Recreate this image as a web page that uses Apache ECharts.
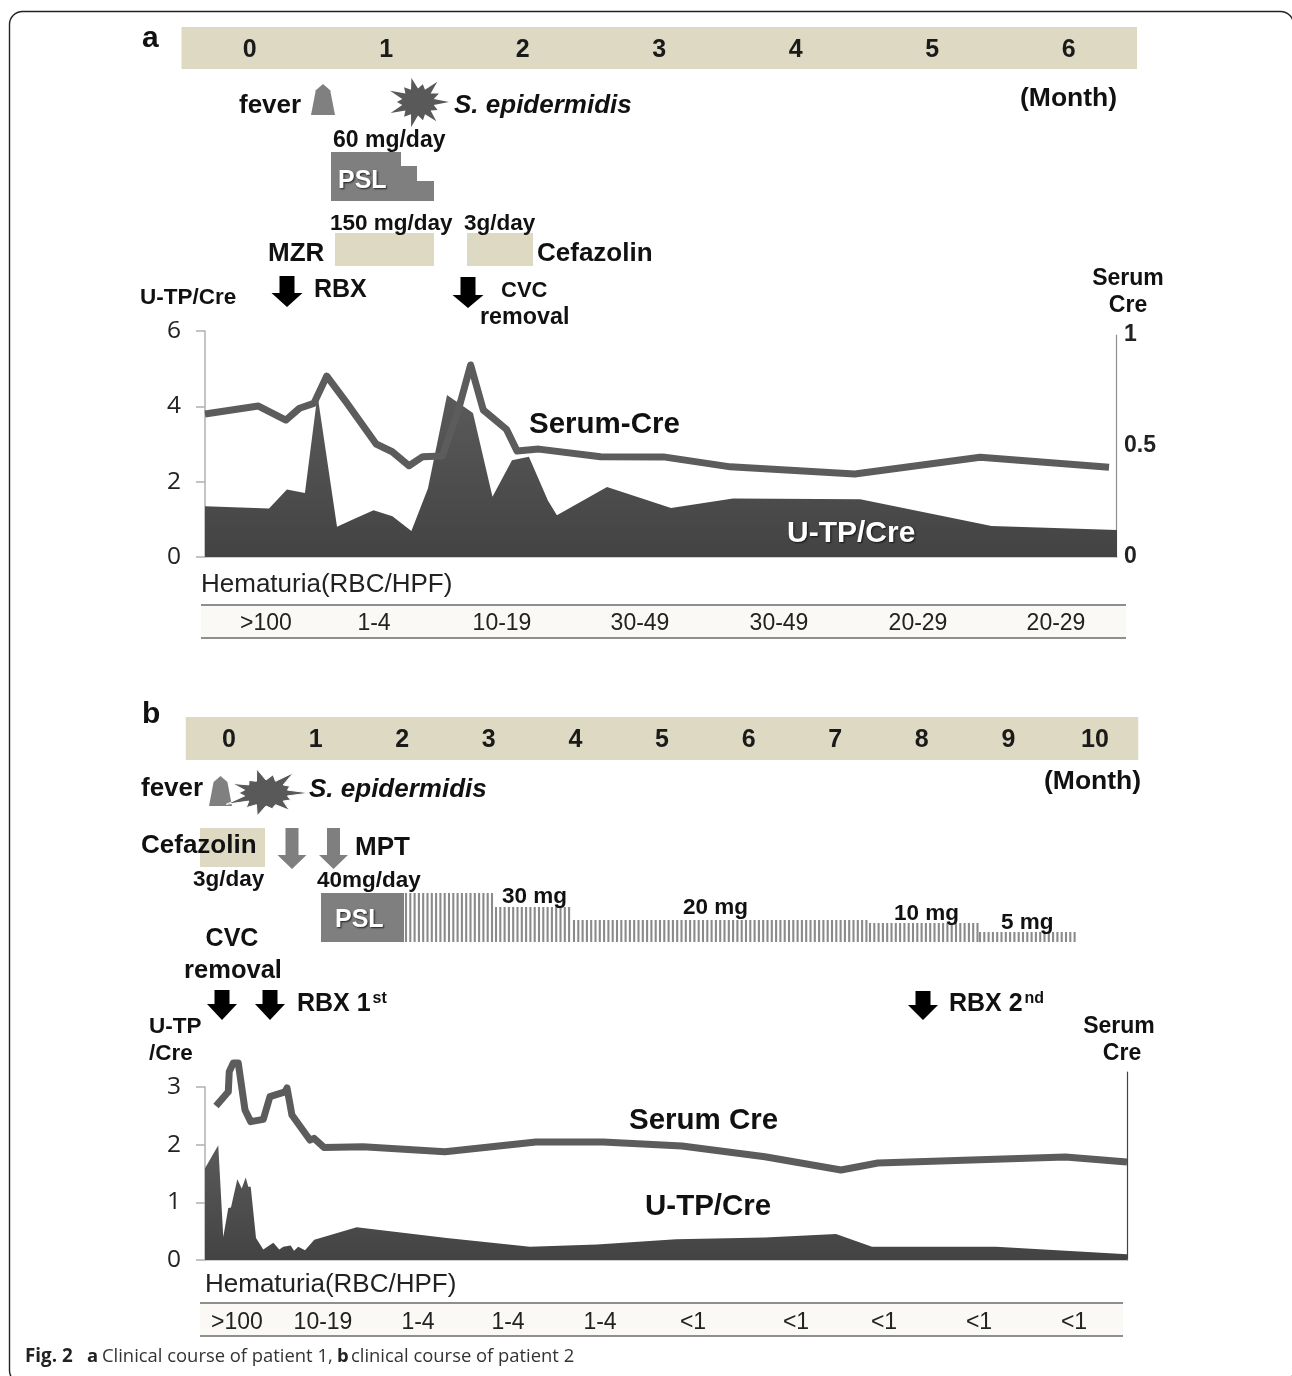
<!DOCTYPE html>
<html>
<head>
<meta charset="utf-8">
<style>html,body{margin:0;padding:0;background:#fff}#c{width:1292px;height:1376px}</style>
<script src="https://cdn.jsdelivr.net/npm/echarts@6/dist/echarts.min.js"></script>
</head>
<body>
<div id="c"></div>
<script>
// ---- data ----
const monthsA = ['0','1','2','3','4','5','6'];
const monthsB = ['0','1','2','3','4','5','6','7','8','9','10'];
const utpTicksA = 6, serumTicksA = 1, utpTicksB = 3;

const aUtpX = [-0.322,0.147,0.278,0.41,0.502,0.645,0.777,0.913,1.051,1.19,1.311,1.451,1.641,1.784,1.927,2.051,2.19,2.256,2.623,3.092,3.546,4.478,5.44,6.359];
const aUtpY = [1.35,1.29,1.79,1.70,4.3,0.80,1.02,1.24,1.08,0.69,1.82,4.3,3.82,1.60,2.57,2.66,1.50,1.11,1.86,1.30,1.55,1.53,0.82,0.72];
const aCreX = [-0.322,0.07,0.271,0.371,0.476,0.571,0.711,0.933,1.051,1.174,1.275,1.418,1.536,1.626,1.719,1.889,1.967,2.125,2.579,3.04,3.531,4.443,5.363,6.308];
const aCreY = [0.644,0.68,0.617,0.67,0.692,0.815,0.70,0.509,0.474,0.411,0.452,0.455,0.662,0.865,0.662,0.575,0.477,0.486,0.452,0.451,0.406,0.374,0.449,0.404];

const bUtpX = [-0.277,-0.124,-0.066,-0.008,0.023,0.096,0.147,0.193,0.223,0.251,0.312,0.396,0.512,0.581,0.627,0.712,0.751,0.8,0.878,0.985,1.475,2.514,3.476,4.25,5.162,6.189,7.009,7.425,8.857,10.37];
const bUtpY = [1.59,1.99,0.40,0.90,0.91,1.40,1.24,1.43,1.27,1.27,0.38,0.18,0.30,0.18,0.23,0.25,0.16,0.23,0.17,0.35,0.57,0.38,0.23,0.27,0.36,0.39,0.45,0.23,0.23,0.10];
const bCreX = [-0.15,-0.008,0.003,0.05,0.107,0.185,0.251,0.396,0.473,0.647,0.67,0.727,0.935,0.982,1.097,1.547,2.494,3.545,4.319,5.231,6.189,7.067,7.494,9.659,10.37];
const bCreY = [0.819,0.895,1.002,1.048,1.048,0.798,0.736,0.748,0.869,0.894,0.915,0.771,0.638,0.647,0.599,0.603,0.576,0.628,0.628,0.606,0.549,0.479,0.516,0.548,0.521];

const hematuriaA = ['>100','1-4','10-19','30-49','30-49','20-29','20-29'];
const hematuriaB = ['>100','10-19','1-4','1-4','1-4','<1','<1','<1','<1','<1'];

// ---- layout ----
const hematuriaAX = [266,374,502,640,779,918,1056];
const hematuriaBX = [237,323,418,508,600,693,796,884,979,1074];
const TAN = '#ddd9c3', GREY = '#7f7f7f', DARK = '#595959';
const SANS = '"Liberation Sans", Arial, sans-serif';
const areaFill = {type:'linear',x:0,y:0,x2:0,y2:1,colorStops:[{offset:0,color:'#5a5a5a'},{offset:1,color:'#434343'}]};

const zip = (xs, ys) => xs.map((x, i) => [x, ys[i]]);
const g = [];
function t(x, y, text, size, o) {
  o = o || {};
  g.push({type:'text', x, y:y+1.5, z:20, silent:true, style:{
    text, fontFamily:o.family||SANS, fontSize:size, fontWeight:o.weight||'bold', fontStyle:o.italic?'italic':'normal',
    fill:o.fill||'#111', align:o.align||'left', verticalAlign:'middle',
    textShadowColor:o.shadow?'rgba(0,0,0,0.75)':undefined, textShadowBlur:o.shadow?2:0, textShadowOffsetX:o.shadow?1:0, textShadowOffsetY:o.shadow?1:0
  }});
}
function rect(x, y, w, h, fill) { g.push({type:'rect', z:10, silent:true, shape:{x,y,width:w,height:h}, style:{fill}}); }
function poly(points, fill, stroke) { g.push({type:'polygon', z:11, silent:true, shape:{points}, style:{fill, stroke:stroke||null, lineWidth:stroke?1:0}}); }
function line(x1,y1,x2,y2,stroke,w) { g.push({type:'line', z:12, silent:true, shape:{x1,y1,x2,y2}, style:{stroke,lineWidth:w}}); }
function arrow(cx, top, shaftEnd, tip, sw, hw, fill) {
  poly([[cx-sw,top],[cx+sw,top],[cx+sw,shaftEnd],[cx+hw,shaftEnd],[cx,tip],[cx-hw,shaftEnd],[cx-sw,shaftEnd]], fill);
}
function star(cx, cy, rx, ry, factors, inner, fill, stroke) {
  const pts = [], n = factors.length;
  factors.forEach((f, i) => {
    const a = (i / n) * Math.PI * 2, b = ((i + 0.5) / n) * Math.PI * 2;
    pts.push([cx + Math.cos(a)*rx*f, cy + Math.sin(a)*ry*f]);
    pts.push([cx + Math.cos(b)*rx*inner, cy + Math.sin(b)*ry*inner]);
  });
  poly(pts, fill, stroke);
}
function fever(x1, x2, y1, y2) {
  const w = x2 - x1, h = y2 - y1;
  poly([[x1,y2],[x2,y2],[x2-w*0.2,y1+h*0.2],[x1+w*0.5,y1],[x1+w*0.2,y1+h*0.2]], '#808080');
}
function table(x1, x2, y1, y2, labels, xs, ly) {
  rect(x1, y1, x2-x1, y2-y1, '#faf9f6');
  line(x1,y1,x2,y1,'#6a6a6a',1.5);
  line(x1,y2,x2,y2,'#6a6a6a',1.5);
  labels.forEach((s, i) => t(xs[i], ly, s, 23, {align:'center', weight:'normal', fill:'#222'}));
}

// page frame
g.push({type:'rect', z:1, silent:true, shape:{x:9.5,y:11.5,width:1284,height:1372,r:13}, style:{fill:null,stroke:'#222',lineWidth:1.4}});

// ---- panel a ----
t(142,37,'a',30);
t(239,104,'fever',26);
fever(311,335,84,115);
star(418,102,31,26,[1,.7,.95,.72,1,.72,.98,.68,1,.72,.95,.7,1,.75],0.52,DARK);
t(454,104,'S. epidermidis',26,{italic:true});
t(1020,97.5,'(Month)',26.5);
t(333,139.5,'60 mg/day',23);
poly([[331,152],[401,152],[401,166],[417,166],[417,181],[434,181],[434,201],[331,201]],GREY);
t(338,179.5,'PSL',25,{fill:'#fff',shadow:true});
rect(335,233,99,33,TAN);
rect(467,233,66,33,TAN);
t(330,222,'150 mg/day',22.5);
t(464,222,'3g/day',22.5);
t(268,252,'MZR',26);
t(537,252,'Cefazolin',26);
arrow(287,276,293,307,7.5,15.5,'#000');
t(314,288.5,'RBX',25);
arrow(468,277,295,308,7.5,15.5,'#000');
t(501,289.5,'CVC',22);
t(480,316.5,'removal',23.3);
t(140,296.5,'U-TP/Cre',22.5);
t(1128,277,'Serum',23,{align:'center'});
t(1128,304,'Cre',23,{align:'center'});
t(529,423,'Serum-Cre',29.5);
t(787,532,'U-TP/Cre',30,{fill:'#fff',shadow:true});
t(201,583,'Hematuria(RBC/HPF)',26,{weight:'normal',fill:'#222'});
table(201,1126,605,638,hematuriaA,hematuriaAX,622);

// ---- panel b ----
t(142,713,'b',30);
t(141,787,'fever',26);
fever(209,232,776,806);
star(266,793,44,26,[1,.62,.85,.62,.9,.72,1,.62,.85,.62,.95,.72,1,.6],0.5,DARK,'#fff');
t(309,788,'S. epidermidis',26,{italic:true});
t(1044,780,'(Month)',26.5);
rect(200,828,65,39,TAN);
t(141,844,'Cefazolin',26);
t(193,878,'3g/day',22.5);
arrow(292,828,855,869,6.5,14.5,GREY);
arrow(333.5,828,855,869,6.5,14.5,GREY);
t(355,846,'MPT',26);
t(317,879,'40mg/day',22.5);
rect(321,893,83,49,GREY);
t(335,918.5,'PSL',25,{fill:'#fff',shadow:true});
[[404,494,893],[494,572,907],[572,868,920],[868,978,923],[978,1078,932]].forEach(([a,b,top]) => {
  for (let x = a + 2; x < b; x += 4.3) line(x,top,x,942,'#8a8a8a',2.1);
});
t(502,895,'30 mg',22.5);
t(683,906,'20 mg',22.5);
t(894,912,'10 mg',22.5);
t(1001,921,'5 mg',22.5);
t(232,937.5,'CVC',25,{align:'center'});
t(233,969,'removal',25.5,{align:'center'});
arrow(222,990,1004,1020,7.5,15,'#000');
arrow(270,990,1004,1020,7.5,15,'#000');
t(297,1002.5,'RBX 1',25);
t(372.5,997.5,'st',16);
arrow(923,991,1005,1020,7.5,15,'#000');
t(949,1002.5,'RBX 2',25);
t(1024.5,997.5,'nd',16);
t(149,1025,'U-TP',22.5);
t(149,1052,'/Cre',22.5);
t(1119,1025,'Serum',23,{align:'center'});
t(1122,1052,'Cre',23,{align:'center'});
t(629,1119,'Serum Cre',29.5);
t(645,1205,'U-TP/Cre',29.5);
t(205,1283,'Hematuria(RBC/HPF)',26,{weight:'normal',fill:'#222'});
table(200,1123,1303,1336,hematuriaB,hematuriaBX,1321);

// caption
const CAP = '"Open Sans", "Noto Sans", sans-serif';
t(25,1355.5,'Fig. 2',18.8,{family:CAP,fill:'#222'});
t(87,1355.5,'a',18.4,{family:CAP,fill:'#222'});
t(102,1355.5,'Clinical course of patient 1,',18.4,{family:CAP,weight:'normal',fill:'#333'});
t(337,1355.5,'b',18.4,{family:CAP,fill:'#222'});
t(351,1355.5,'clinical course of patient 2',18.4,{family:CAP,weight:'normal',fill:'#333'});

// ---- axes ----
const leftLabel = {fontFamily:'"Open Sans", sans-serif', fontSize:24.5, color:'#222', margin:24, padding:[5,0,0,0]};
const bandAxis = (idx, data) => ({gridIndex:idx, type:'category', data, position:'top', boundaryGap:true,
  axisLine:{show:false}, axisTick:{show:false},
  axisLabel:{inside:true, margin:11, interval:0, fontFamily:SANS, fontWeight:'bold', fontSize:25, color:'#1a1a1a'}});
const hiddenX = (idx, min, max) => ({gridIndex:idx, type:'value', min, max, show:false});
const plotX = (idx, min, max) => ({gridIndex:idx, type:'value', min, max, splitLine:{show:false},
  axisLine:{show:true, onZero:false, lineStyle:{color:'#bdbdbd', width:1.5}}, axisTick:{show:false}, axisLabel:{show:false}});
const leftY = (idx, max) => ({gridIndex:idx, type:'value', min:0, max, interval:max===6?2:1, splitLine:{show:false},
  axisLine:{show:true, onZero:false, lineStyle:{color:'#b0b0b0', width:1.5}}, axisTick:{show:true, length:9, lineStyle:{color:'#b0b0b0', width:1.5}}, axisLabel:leftLabel});

const option = {
  animation:false,
  backgroundColor:'#fff',
  grid:[
    {left:181.5, width:955.5, top:27, height:42, show:true, backgroundColor:TAN, borderWidth:0},
    {left:205, width:912, top:331, height:226},
    {left:205, width:911, top:335, height:222},
    {left:185.7, width:952.6, top:717, height:43, show:true, backgroundColor:TAN, borderWidth:0},
    {left:205, width:922, top:1087, height:173},
    {left:205, width:922, top:1072, height:188}
  ],
  xAxis:[
    bandAxis(0, monthsA),
    plotX(1,-0.322,6.359),
    hiddenX(2,-0.322,6.359),
    bandAxis(3, monthsB),
    plotX(4,-0.277,10.37),
    hiddenX(5,-0.277,10.37)
  ],
  yAxis:[
    {gridIndex:0, type:'value', show:false},
    leftY(1, utpTicksA),
    {gridIndex:2, type:'value', position:'right', min:0, max:serumTicksA, interval:0.5, splitLine:{show:false},
      axisLine:{show:true, onZero:false, lineStyle:{color:'#8f8f8f', width:1.2}}, axisTick:{show:false},
      axisLabel:{fontFamily:SANS, fontWeight:'bold', fontSize:23, color:'#222', margin:8, align:'left', padding:[5,0,0,0]}},
    {gridIndex:3, type:'value', show:false},
    leftY(4, utpTicksB),
    {gridIndex:5, type:'value', position:'right', min:0, max:1, splitLine:{show:false},
      axisLine:{show:true, onZero:false, lineStyle:{color:'#444', width:1.2}}, axisTick:{show:false}, axisLabel:{show:false}}
  ],
  series:[
    {name:'U-TP/Cre', type:'line', xAxisIndex:1, yAxisIndex:1, data:zip(aUtpX,aUtpY), symbol:'none', lineStyle:{width:0}, areaStyle:{color:areaFill,opacity:1}, z:2},
    {name:'Serum-Cre', type:'line', xAxisIndex:2, yAxisIndex:2, data:zip(aCreX,aCreY), symbol:'none', lineStyle:{color:'#5c5c5c',width:7,join:'round'}, z:3},
    {name:'U-TP/Cre', type:'line', xAxisIndex:4, yAxisIndex:4, data:zip(bUtpX,bUtpY), symbol:'none', lineStyle:{width:0}, areaStyle:{color:areaFill,opacity:1}, z:2},
    {name:'Serum Cre', type:'line', xAxisIndex:5, yAxisIndex:5, data:zip(bCreX,bCreY), symbol:'none', clip:false, lineStyle:{color:'#5c5c5c',width:7,join:'round'}, z:3}
  ],
  graphic:{elements:g}
};
const chart = echarts.init(document.getElementById('c'), null, {renderer:'canvas', width:1292, height:1376});
chart.setOption(option);
</script>
</body>
</html>
